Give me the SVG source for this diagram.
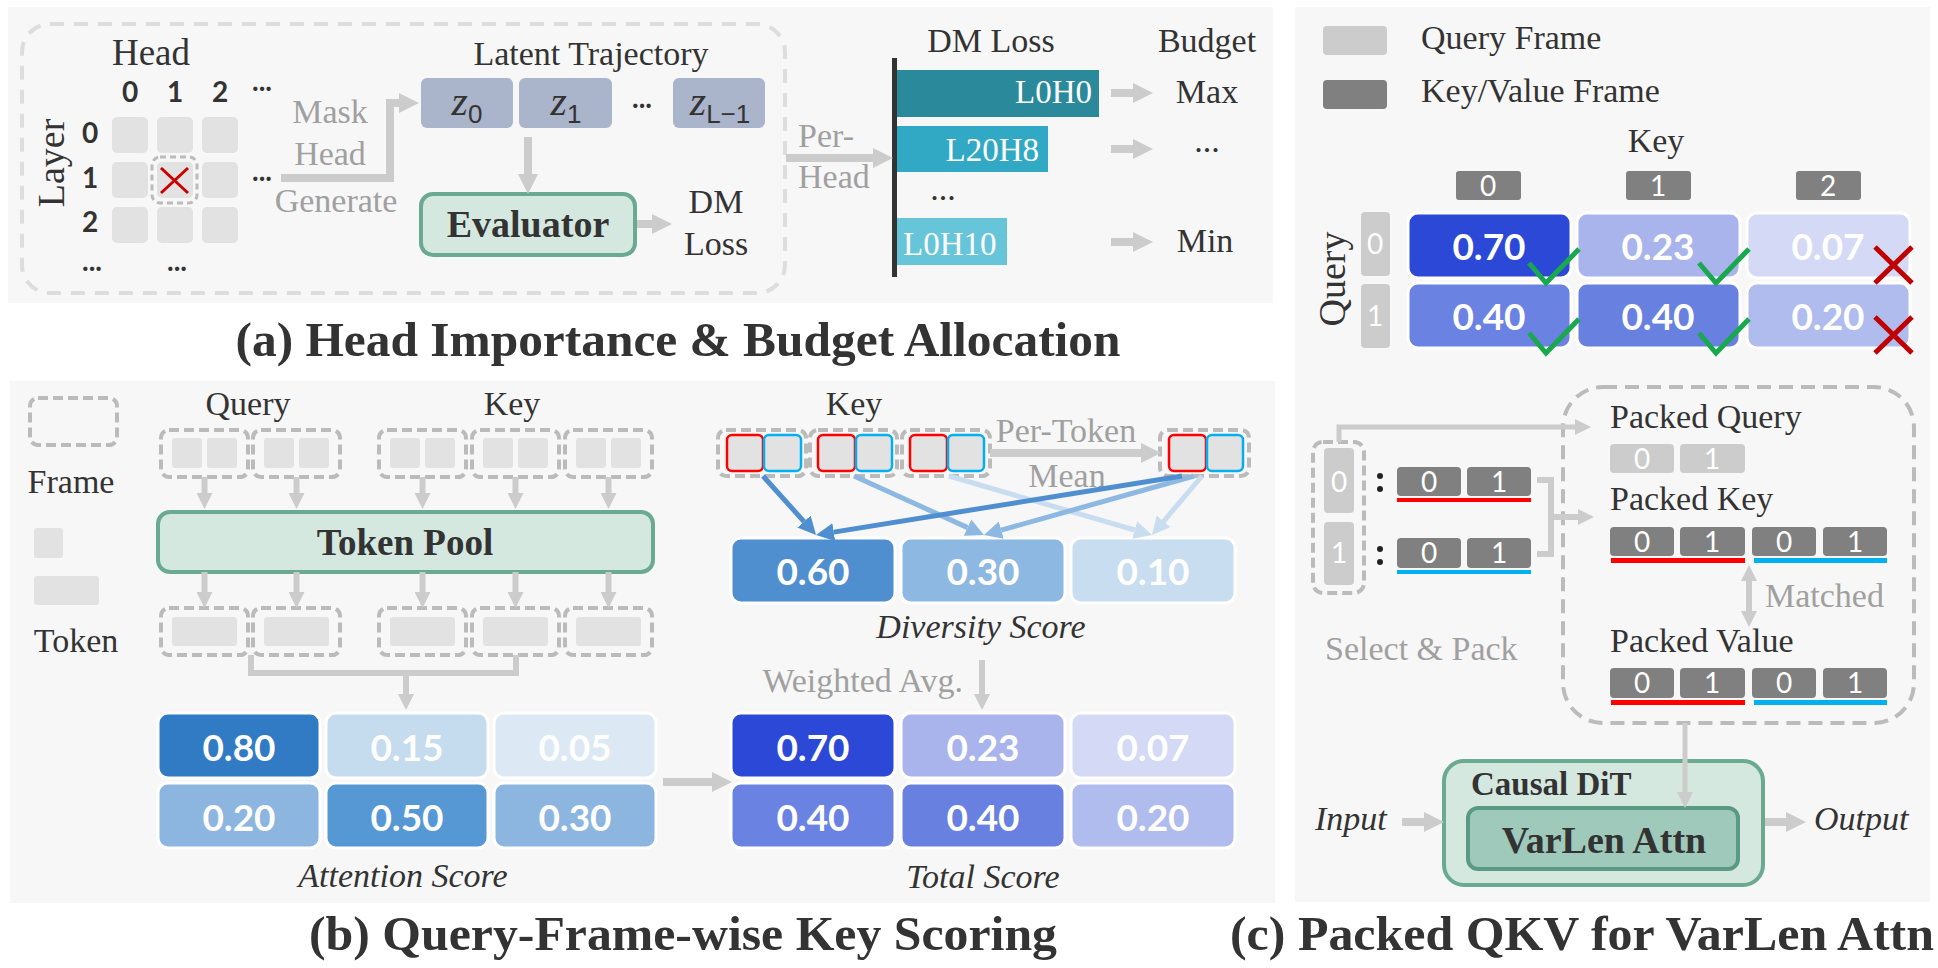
<svg xmlns="http://www.w3.org/2000/svg" width="1938" height="968" viewBox="0 0 1938 968">
<defs>
<style>
.bg{fill:#f7f7f7}
.t{font-family:"Liberation Serif","Times New Roman",serif;fill:#333;font-size:34px}
.g{font-family:"Liberation Serif","Times New Roman",serif;fill:#a0a0a0;font-size:34px}
.b{font-weight:700}
.i{font-style:italic}
.m{text-anchor:middle}
.e{text-anchor:end}
.n{font-family:Lato,"Liberation Sans",sans-serif;font-weight:700;fill:#fff;text-anchor:middle;font-size:37px}
.d{font-family:Lato,"Liberation Sans",sans-serif;fill:#fff;text-anchor:middle;font-size:28px}
.hd{font-family:Lato,"Liberation Sans",sans-serif;font-weight:700;fill:#333;text-anchor:middle;font-size:28px}
.dash{fill:none;stroke:#bbb;stroke-width:4;stroke-dasharray:10 5}
.tok{fill:#e2e2e2}
.conn{fill:none;stroke:#ccc;stroke-width:8}
.cs{fill:none;stroke:#ccc;stroke-width:6}
.green{fill:#d5e8e0;stroke:#6aaa92;stroke-width:4}
.cell{stroke:#fff;stroke-width:3}
.lq{fill:#ccc}
.kv{fill:#808080}
.ok{fill:none;stroke:#1aa84f;stroke-width:5}
.no{fill:none;stroke:#c00000;stroke-width:5}
</style>
<marker id="ah" viewBox="0 0 10 10" refX="0" refY="5" markerUnits="userSpaceOnUse" markerWidth="20" markerHeight="20" orient="auto"><path d="M0,0 L10,5 L0,10 z" fill="#ccc"/></marker>
<marker id="ahs" viewBox="0 0 10 10" refX="0" refY="5" markerUnits="userSpaceOnUse" markerWidth="16" markerHeight="16" orient="auto-start-reverse"><path d="M0,0 L10,5 L0,10 z" fill="#ccc"/></marker>
<marker id="ab1" viewBox="0 0 10 10" refX="0" refY="5" markerUnits="userSpaceOnUse" markerWidth="18" markerHeight="18" orient="auto"><path d="M0,0 L10,5 L0,10 z" fill="#4f8fd0"/></marker>
<marker id="ab2" viewBox="0 0 10 10" refX="0" refY="5" markerUnits="userSpaceOnUse" markerWidth="18" markerHeight="18" orient="auto"><path d="M0,0 L10,5 L0,10 z" fill="#8db8e2"/></marker>
<marker id="ab3" viewBox="0 0 10 10" refX="0" refY="5" markerUnits="userSpaceOnUse" markerWidth="18" markerHeight="18" orient="auto"><path d="M0,0 L10,5 L0,10 z" fill="#c8ddf0"/></marker>
</defs>
<rect width="1938" height="968" fill="#fff"/>
<rect class="bg" x="8" y="7" width="1265" height="296"/>
<rect class="bg" x="10" y="381" width="1265" height="522"/>
<rect class="bg" x="1295" y="7" width="635" height="895"/>

<!-- ===== Panel (a) ===== -->
<g id="a-frame"><rect x="22" y="24" width="763" height="269" rx="28" fill="none" stroke="#ddd" stroke-width="4" stroke-dasharray="14 10"/></g>
<g id="a-grid">
<text class="t m" x="151" y="65" style="font-size:37px">Head</text>
<text class="hd" x="130" y="102">0</text><text class="hd" x="175" y="102">1</text><text class="hd" x="220" y="102">2</text><text class="hd" x="262" y="91">...</text>
<text class="t m" transform="translate(64,163) rotate(-90)" style="font-size:38px">Layer</text>
<text class="hd" x="90" y="143">0</text><text class="hd" x="90" y="188">1</text><text class="hd" x="90" y="232">2</text>
<text class="hd" x="262" y="181">...</text><text class="hd" x="92" y="271">...</text><text class="hd" x="177" y="271">...</text>
<rect class="tok" x="112" y="117" width="36" height="36" rx="5"/><rect class="tok" x="157" y="117" width="36" height="36" rx="5"/><rect class="tok" x="202" y="117" width="36" height="36" rx="5"/>
<rect class="tok" x="112" y="162" width="36" height="36" rx="5"/><rect class="tok" x="157" y="162" width="36" height="36" rx="5"/><rect class="tok" x="202" y="162" width="36" height="36" rx="5"/>
<rect class="tok" x="112" y="207" width="36" height="36" rx="5"/><rect class="tok" x="157" y="207" width="36" height="36" rx="5"/><rect class="tok" x="202" y="207" width="36" height="36" rx="5"/>
<rect x="152" y="157" width="45" height="46" rx="8" fill="none" stroke="#bbb" stroke-width="3" stroke-dasharray="6 4"/>
<path d="M161,168 L188,193 M188,168 L161,193" stroke="#cc0000" stroke-width="3" fill="none"/>
</g>
<g id="a-mask-label">
<text class="g m" x="330" y="123">Mask</text><text class="g m" x="330" y="165">Head</text><text class="g m" x="336" y="212">Generate</text>
</g>
<g id="a-latent">
<text class="t m" x="591" y="65">Latent Trajectory</text>
<rect x="421" y="78" width="92" height="50" rx="6" fill="#aab4ca"/>
<rect x="519" y="78" width="93" height="50" rx="6" fill="#aab4ca"/>
<rect x="673" y="78" width="92" height="50" rx="6" fill="#aab4ca"/>
<text class="t m" x="467" y="115" style="font-size:42px"><tspan class="i">z</tspan><tspan dy="8" style="font-family:'Liberation Sans',sans-serif;font-size:26px">0</tspan></text>
<text class="t m" x="566" y="115" style="font-size:42px"><tspan class="i">z</tspan><tspan dy="8" style="font-family:'Liberation Sans',sans-serif;font-size:26px">1</tspan></text>
<text class="t m" x="720" y="115" style="font-size:42px"><tspan class="i">z</tspan><tspan dy="8" style="font-family:'Liberation Sans',sans-serif;font-size:26px">L−1</tspan></text>
<text class="hd" x="642" y="108">...</text>
</g>
<g id="a-evaluator">
<rect class="green" x="421" y="194" width="214" height="61" rx="12"/>
<text class="t b m" x="528" y="237" style="font-size:38px">Evaluator</text>
</g>
<g id="a-dmloss">
<text class="t m" x="716" y="213">DM</text><text class="t m" x="716" y="255">Loss</text>
</g>
<g id="a-perhead"><text class="g" x="798" y="147">Per-</text><text class="g" x="798" y="188">Head</text></g>
<g id="a-bars">
<text class="t m" x="991" y="52">DM Loss</text>
<text class="t m" x="1207" y="52">Budget</text>
<rect x="892" y="58" width="5" height="219" fill="#333"/>
<rect x="897" y="70" width="202" height="47" fill="#2a8a9c"/>
<rect x="897" y="126" width="151" height="46" fill="#31a9c4"/>
<rect x="897" y="218" width="110" height="47" fill="#66c5d8"/>
<text class="t e" x="1092" y="103" style="fill:#fff;font-size:33px">L0H0</text>
<text class="t e" x="1039" y="161" style="fill:#fff;font-size:33px">L20H8</text>
<text class="t" x="903" y="255" style="fill:#fff;font-size:33px">L0H10</text>
<text class="t m" x="943" y="200">...</text>
<text class="t m" x="1207" y="103">Max</text>
<text class="t m" x="1207" y="152">...</text>
<text class="t m" x="1205" y="252">Min</text>
</g>
<text id="title-a" class="t b m" x="678" y="356" style="font-size:48px" textLength="885" lengthAdjust="spacingAndGlyphs">(a) Head Importance &amp; Budget Allocation</text>

<!-- ===== Panel (b) ===== -->
<g id="b-legend">
<rect class="dash" x="30" y="398" width="87" height="47" rx="8"/>
<text class="t m" x="71" y="493">Frame</text>
<rect class="tok" x="34" y="528" width="29" height="30" rx="3"/>
<rect class="tok" x="34" y="576" width="65" height="29" rx="3"/>
<text class="t m" x="76" y="652">Token</text>
</g>
<g id="b-frames-in">
<text class="t m" x="248" y="415">Query</text>
<text class="t m" x="512" y="415">Key</text>
<rect class="dash" x="161" y="430" width="87" height="47" rx="8"/><rect class="tok" x="172" y="438" width="30" height="30" rx="3"/><rect class="tok" x="207" y="438" width="30" height="30" rx="3"/>
<rect class="dash" x="253" y="430" width="87" height="47" rx="8"/><rect class="tok" x="264" y="438" width="30" height="30" rx="3"/><rect class="tok" x="299" y="438" width="30" height="30" rx="3"/>
<rect class="dash" x="379" y="430" width="87" height="47" rx="8"/><rect class="tok" x="390" y="438" width="30" height="30" rx="3"/><rect class="tok" x="425" y="438" width="30" height="30" rx="3"/>
<rect class="dash" x="472" y="430" width="87" height="47" rx="8"/><rect class="tok" x="483" y="438" width="30" height="30" rx="3"/><rect class="tok" x="518" y="438" width="30" height="30" rx="3"/>
<rect class="dash" x="565" y="430" width="87" height="47" rx="8"/><rect class="tok" x="576" y="438" width="30" height="30" rx="3"/><rect class="tok" x="611" y="438" width="30" height="30" rx="3"/>
</g>
<g id="b-tokenpool">
<rect class="green" x="158" y="512" width="495" height="60" rx="12"/>
<text class="t b m" x="405" y="555" style="font-size:37px">Token Pool</text>
</g>
<g id="b-frames-out">
<rect class="dash" x="161" y="608" width="87" height="47" rx="8"/><rect class="tok" x="172" y="617" width="65" height="29" rx="3"/>
<rect class="dash" x="253" y="608" width="87" height="47" rx="8"/><rect class="tok" x="264" y="617" width="65" height="29" rx="3"/>
<rect class="dash" x="379" y="608" width="87" height="47" rx="8"/><rect class="tok" x="390" y="617" width="65" height="29" rx="3"/>
<rect class="dash" x="472" y="608" width="87" height="47" rx="8"/><rect class="tok" x="483" y="617" width="65" height="29" rx="3"/>
<rect class="dash" x="565" y="608" width="87" height="47" rx="8"/><rect class="tok" x="576" y="617" width="65" height="29" rx="3"/>
</g>
<g id="b-attention">
<rect class="cell" x="158" y="713" width="162" height="65" rx="10" fill="#317ac4"/>
<rect class="cell" x="326" y="713" width="162" height="65" rx="10" fill="#c5dbee"/>
<rect class="cell" x="494" y="713" width="162" height="65" rx="10" fill="#dce9f5"/>
<rect class="cell" x="158" y="783" width="162" height="65" rx="10" fill="#8cb6e0"/>
<rect class="cell" x="326" y="783" width="162" height="65" rx="10" fill="#5598d4"/>
<rect class="cell" x="494" y="783" width="162" height="65" rx="10" fill="#8cb6e0"/>
<text class="n" x="239" y="761">0.80</text><text class="n" x="407" y="761">0.15</text><text class="n" x="575" y="761">0.05</text>
<text class="n" x="239" y="831">0.20</text><text class="n" x="407" y="831">0.50</text><text class="n" x="575" y="831">0.30</text>
<text class="t i m" x="403" y="887">Attention Score</text>
</g>
<g id="b-key-div">
<text class="t m" x="854" y="415">Key</text>
<rect class="dash" x="718" y="430" width="88" height="46" rx="8"/>
<rect class="dash" x="810" y="430" width="87" height="46" rx="8"/>
<rect class="dash" x="902" y="430" width="88" height="46" rx="8"/>
<rect class="dash" x="1160" y="430" width="89" height="46" rx="8"/>
<g class="tok" stroke-width="2.5">
<rect x="727" y="435" width="36" height="36" rx="5" stroke="#ff0000"/><rect x="764" y="435" width="37" height="36" rx="5" stroke="#00b0f0"/>
<rect x="818" y="435" width="37" height="36" rx="5" stroke="#ff0000"/><rect x="856" y="435" width="36" height="36" rx="5" stroke="#00b0f0"/>
<rect x="910" y="435" width="37" height="36" rx="5" stroke="#ff0000"/><rect x="948" y="435" width="36" height="36" rx="5" stroke="#00b0f0"/>
<rect x="1169" y="435" width="37" height="36" rx="5" stroke="#ff0000"/><rect x="1207" y="435" width="36" height="36" rx="5" stroke="#00b0f0"/>
</g>
<text class="g m" x="1066" y="442">Per-Token</text>
<text class="g m" x="1067" y="487">Mean</text>
</g>
<g id="b-diversity">
<rect class="cell" x="731" y="538" width="164" height="65" rx="10" fill="#4f8fd0"/>
<rect class="cell" x="901" y="538" width="164" height="65" rx="10" fill="#8db8e2"/>
<rect class="cell" x="1071" y="538" width="164" height="65" rx="10" fill="#c8ddf0"/>
<text class="n" x="813" y="585">0.60</text><text class="n" x="983" y="585">0.30</text><text class="n" x="1153" y="585">0.10</text>
<text class="t i m" x="981" y="638">Diversity Score</text>
<text class="g e" x="963" y="692">Weighted Avg.</text>
</g>
<g id="b-total">
<rect class="cell" x="731" y="713" width="164" height="65" rx="10" fill="#2b49d6"/>
<rect class="cell" x="901" y="713" width="164" height="65" rx="10" fill="#a9b4ec"/>
<rect class="cell" x="1071" y="713" width="164" height="65" rx="10" fill="#d4d9f5"/>
<rect class="cell" x="731" y="783" width="164" height="65" rx="10" fill="#6a82e2"/>
<rect class="cell" x="901" y="783" width="164" height="65" rx="10" fill="#6880e0"/>
<rect class="cell" x="1071" y="783" width="164" height="65" rx="10" fill="#b0bbee"/>
<text class="n" x="813" y="761">0.70</text><text class="n" x="983" y="761">0.23</text><text class="n" x="1153" y="761">0.07</text>
<text class="n" x="813" y="831">0.40</text><text class="n" x="983" y="831">0.40</text><text class="n" x="1153" y="831">0.20</text>
<text class="t i m" x="983" y="888">Total Score</text>
</g>
<text id="title-b" class="t b m" x="683" y="950" style="font-size:48px" textLength="748" lengthAdjust="spacingAndGlyphs">(b) Query-Frame-wise Key Scoring</text>

<!-- ===== Panel (c) ===== -->
<g id="c-legend">
<rect class="lq" x="1323" y="26" width="64" height="29" rx="4"/>
<rect class="kv" x="1323" y="80" width="64" height="29" rx="4"/>
<text class="t" x="1421" y="49">Query Frame</text>
<text class="t" x="1421" y="102">Key/Value Frame</text>
</g>
<g id="c-scores">
<text class="t m" x="1656" y="152">Key</text>
<rect class="kv" x="1456" y="171" width="65" height="29" rx="3"/><rect class="kv" x="1626" y="171" width="65" height="29" rx="3"/><rect class="kv" x="1796" y="171" width="65" height="29" rx="3"/>
<text class="d" x="1488" y="196">0</text><text class="d" x="1658" y="196">1</text><text class="d" x="1828" y="196">2</text>
<text class="t m" transform="translate(1345,279) rotate(-90)" style="font-size:38px">Query</text>
<rect class="lq" x="1361" y="212" width="29" height="64" rx="4"/><rect class="lq" x="1361" y="284" width="29" height="64" rx="4"/>
<text class="d" x="1375" y="254">0</text><text class="d" x="1375" y="326">1</text>
<rect class="cell" x="1408" y="213" width="163" height="65" rx="10" fill="#2b49d6"/>
<rect class="cell" x="1577" y="213" width="163" height="65" rx="10" fill="#a9b4ec"/>
<rect class="cell" x="1747" y="213" width="163" height="65" rx="10" fill="#d4d9f5"/>
<rect class="cell" x="1408" y="283" width="163" height="65" rx="10" fill="#6a82e2"/>
<rect class="cell" x="1577" y="283" width="163" height="65" rx="10" fill="#6880e0"/>
<rect class="cell" x="1747" y="283" width="163" height="65" rx="10" fill="#b0bbee"/>
<text class="n" x="1489" y="260">0.70</text><text class="n" x="1658" y="260">0.23</text><text class="n" x="1828" y="260">0.07</text>
<text class="n" x="1489" y="330">0.40</text><text class="n" x="1658" y="330">0.40</text><text class="n" x="1828" y="330">0.20</text>
<polyline class="ok" points="1529,263 1546,283 1579,249"/>
<polyline class="ok" points="1699,263 1716,283 1749,249"/>
<polyline class="ok" points="1529,333 1546,353 1579,319"/>
<polyline class="ok" points="1699,333 1716,353 1749,319"/>
<path class="no" d="M1875,247 L1912,283 M1912,247 L1875,283"/>
<path class="no" d="M1875,317 L1912,353 M1912,317 L1875,353"/>
</g>
<g id="c-select">
<rect class="dash" x="1313" y="442" width="51" height="151" rx="10"/>
<rect class="lq" x="1324" y="448" width="30" height="65" rx="4"/><rect class="lq" x="1324" y="522" width="30" height="63" rx="4"/>
<text class="d" x="1339" y="492">0</text><text class="d" x="1339" y="563">1</text>
<circle cx="1380" cy="476" r="3" fill="#222"/><circle cx="1380" cy="489" r="3" fill="#222"/>
<circle cx="1380" cy="549" r="3" fill="#222"/><circle cx="1380" cy="562" r="3" fill="#222"/>
<rect class="kv" x="1397" y="467" width="64" height="29" rx="4"/><rect class="kv" x="1467" y="467" width="64" height="29" rx="4"/>
<text class="d" x="1429" y="492">0</text><text class="d" x="1499" y="492">1</text>
<rect x="1397" y="498" width="134" height="4" fill="#ff0000"/>
<rect class="kv" x="1397" y="538" width="64" height="30" rx="4"/><rect class="kv" x="1467" y="538" width="64" height="30" rx="4"/>
<text class="d" x="1429" y="563">0</text><text class="d" x="1499" y="563">1</text>
<rect x="1397" y="570" width="134" height="4" fill="#00b0f0"/>
<text class="g" x="1325" y="660">Select &amp; Pack</text>
</g>
<g id="c-packed">
<rect x="1563" y="387" width="351" height="336" rx="40" fill="none" stroke="#bbb" stroke-width="4" stroke-dasharray="14 8"/>
<text class="t" x="1610" y="428">Packed Query</text>
<rect class="lq" x="1610" y="444" width="64" height="29" rx="4"/><rect class="lq" x="1680" y="444" width="65" height="29" rx="4"/>
<text class="d" x="1642" y="469">0</text><text class="d" x="1712" y="469">1</text>
<text class="t" x="1610" y="510">Packed Key</text>
<rect class="kv" x="1610" y="527" width="64" height="29" rx="4"/><rect class="kv" x="1680" y="527" width="65" height="29" rx="4"/><rect class="kv" x="1752" y="527" width="64" height="29" rx="4"/><rect class="kv" x="1823" y="527" width="64" height="29" rx="4"/>
<text class="d" x="1642" y="552">0</text><text class="d" x="1712" y="552">1</text><text class="d" x="1784" y="552">0</text><text class="d" x="1855" y="552">1</text>
<rect x="1611" y="558" width="134" height="5" fill="#ff0000"/><rect x="1754" y="558" width="133" height="5" fill="#00b0f0"/>
<text class="g" x="1765" y="607">Matched</text>
<text class="t" x="1610" y="652">Packed Value</text>
<rect class="kv" x="1610" y="668" width="64" height="30" rx="4"/><rect class="kv" x="1680" y="668" width="65" height="30" rx="4"/><rect class="kv" x="1752" y="668" width="64" height="30" rx="4"/><rect class="kv" x="1823" y="668" width="64" height="30" rx="4"/>
<text class="d" x="1642" y="693">0</text><text class="d" x="1712" y="693">1</text><text class="d" x="1784" y="693">0</text><text class="d" x="1855" y="693">1</text>
<rect x="1611" y="700" width="134" height="5" fill="#ff0000"/><rect x="1754" y="700" width="133" height="5" fill="#00b0f0"/>
</g>
<g id="c-causal-dit">
<rect class="green" x="1444" y="761" width="319" height="124" rx="20"/>
<text class="t b" x="1471" y="795" style="font-size:33px">Causal DiT</text>
</g>
<g id="c-varlen">
<rect x="1468" y="808" width="270" height="61" rx="10" fill="#9fc9bb" stroke="#5a9a84" stroke-width="4"/>
<text class="t b m" x="1604" y="853" style="font-size:38px">VarLen Attn</text>
</g>
<g id="c-io">
<text class="t i" x="1315" y="830">Input</text>
<text class="t i" x="1814" y="830">Output</text>
</g>
<text id="title-c" class="t b m" x="1582" y="950" style="font-size:48px" textLength="704" lengthAdjust="spacingAndGlyphs">(c) Packed QKV for VarLen Attn</text>

<!-- ===== Connectors ===== -->
<g id="connectors">
<path class="conn" d="M281,178 H390 V103 H399" marker-end="url(#ah)"/>
<path class="conn" d="M528,137 V174" marker-end="url(#ah)"/>
<path class="conn" d="M637,224 H652" marker-end="url(#ah)"/>
<path class="conn" d="M786,158 H873" marker-end="url(#ah)"/>
<path class="conn" d="M1111,93 H1133" marker-end="url(#ah)"/>
<path class="conn" d="M1111,149 H1133" marker-end="url(#ah)"/>
<path class="conn" d="M1111,242 H1133" marker-end="url(#ah)"/>
<g class="cs">
<path d="M204.5,477 V493" marker-end="url(#ahs)"/><path d="M296.5,477 V493" marker-end="url(#ahs)"/><path d="M422.5,477 V493" marker-end="url(#ahs)"/><path d="M515.5,477 V493" marker-end="url(#ahs)"/><path d="M608.5,477 V493" marker-end="url(#ahs)"/>
<path d="M204.5,572 V592" marker-end="url(#ahs)"/><path d="M296.5,572 V592" marker-end="url(#ahs)"/><path d="M422.5,572 V592" marker-end="url(#ahs)"/><path d="M515.5,572 V592" marker-end="url(#ahs)"/><path d="M608.5,572 V592" marker-end="url(#ahs)"/>
<path d="M251,655 V673 H516 V655"/>
<path d="M406,673 V694" marker-end="url(#ahs)"/>
<path d="M982,660 V694" marker-end="url(#ahs)"/>
</g>
<path class="conn" d="M663,782 H712" marker-end="url(#ah)"/>
<path class="conn" d="M990,453 H1141" marker-end="url(#ah)"/>
<g fill="none" stroke-width="5">
<path d="M949,476 L1134.7,530" stroke="#c8ddf0" marker-end="url(#ab3)"/>
<path d="M1202,476 L1163.6,521.3" stroke="#c8ddf0" marker-end="url(#ab3)"/>
<path d="M854,476 L967.6,527.6" stroke="#8db8e2" marker-end="url(#ab2)"/>
<path d="M1194,476 L1001.3,530.1" stroke="#8db8e2" marker-end="url(#ab2)"/>
<path d="M763,476 L804,521.6" stroke="#4f8fd0" marker-end="url(#ab1)"/>
<path d="M1182,476 L833.8,532.1" stroke="#4f8fd0" marker-end="url(#ab1)"/>
</g>
<path class="cs" d="M1339,442 V427 H1575" marker-end="url(#ahs)" style="stroke-width:5"/>
<path class="cs" d="M1537,480 H1551 V554 H1537"/>
<path class="cs" d="M1551,517 H1578" marker-end="url(#ahs)"/>
<path class="cs" d="M1749,581 V611" marker-start="url(#ahs)" marker-end="url(#ahs)"/>
<path class="cs" d="M1685,723 V792" marker-end="url(#ahs)" style="stroke-width:5"/>
<path class="conn" d="M1402,822 H1424" marker-end="url(#ah)"/>
<path class="conn" d="M1765,822 H1786" marker-end="url(#ah)"/>
</g>
</svg>
